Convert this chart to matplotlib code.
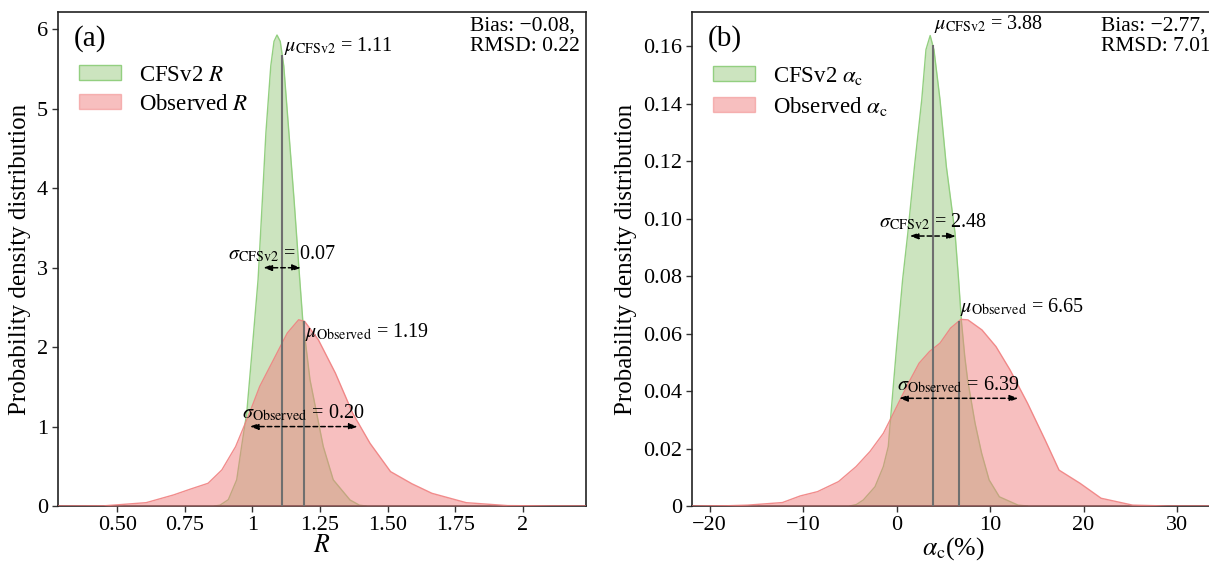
import numpy as np
import matplotlib
matplotlib.use('Agg')
import matplotlib.pyplot as plt
from matplotlib.patches import Patch

plt.rcParams['font.family'] = ['Liberation Serif', 'DejaVu Serif']
plt.rcParams['mathtext.fontset'] = 'stix'

# ---------------- data ----------------
# Panel (a): R
a_cfs_x = [0.86, 0.88, 0.911, 0.942, 0.960, 0.979, 1.000, 1.021, 1.037, 1.050, 1.068, 1.080,
           1.091, 1.103, 1.116, 1.135, 1.154, 1.173, 1.186, 1.213, 1.262, 1.299, 1.361, 1.396, 1.42]
a_cfs_y = [0, 0.01, 0.08, 0.33, 0.75, 1.17, 2.0, 2.85, 3.86, 4.70, 5.54, 5.85,
           5.93, 5.85, 5.54, 4.70, 3.86, 2.95, 2.35, 1.59, 0.75, 0.33, 0.076, 0.01, 0]
a_obs_x = [0.282, 0.45, 0.607, 0.708, 0.772, 0.836, 0.887, 0.938, 0.989, 1.027, 1.078, 1.129,
           1.171, 1.193, 1.244, 1.307, 1.371, 1.435, 1.511, 1.590, 1.664, 1.791, 1.944, 2.1, 2.234]
a_obs_y = [0, 0.002, 0.042, 0.139, 0.214, 0.286, 0.454, 0.748, 1.168, 1.505, 1.841, 2.177,
           2.345, 2.325, 2.093, 1.673, 1.168, 0.790, 0.433, 0.28, 0.160, 0.042, 0.005, 0.001, 0]
a_mean = [1.11, 1.19]
a_std = [0.07, 0.20]
a_bias, a_rmsd = -0.08, 0.22

# Panel (b): alpha_c (%)
b_cfs_x = [-5.0, -4.3, -3.55, -2.30, -1.41, -0.88, -0.62, 0.0, 0.65, 1.21, 1.92, 2.70, 3.15,
           3.6, 4.0, 4.65, 5.33, 6.26, 6.64, 6.95, 7.3, 7.6, 8.4, 9.1, 9.9, 11.0, 13.0, 14.0]
b_cfs_y = [0, 0.0005, 0.0021, 0.0067, 0.0137, 0.0207, 0.031, 0.055, 0.0787, 0.0950, 0.1182, 0.1415,
           0.1589, 0.1638, 0.1589, 0.1415, 0.1182, 0.0950, 0.0787, 0.064, 0.052, 0.044, 0.0288,
           0.0184, 0.0091, 0.0032, 0.0003, 0]
b_obs_x = [-21.84, -18.0, -15.94, -12.2, -10.3, -8.45, -6.2, -4.33, -2.83, -1.41, -0.51, 0.37,
           1.26, 2.41, 3.53, 4.65, 5.77, 6.89, 7.64, 9.14, 10.64, 12.14, 14.01, 15.89, 17.38,
           19.63, 21.88, 25.25, 29.0, 34.1]
b_obs_y = [0, 0.0001, 0.0003, 0.0012, 0.0035, 0.0050, 0.0085, 0.0137, 0.019, 0.0253, 0.0311, 0.0369,
           0.0427, 0.0497, 0.0538, 0.0567, 0.0619, 0.0650, 0.0648, 0.0613, 0.0555, 0.0474, 0.0358,
           0.0230, 0.0125, 0.0079, 0.0027, 0.0003, 0, 0]
b_mean = [3.88, 6.65]
b_std = [2.48, 6.39]
b_bias, b_rmsd = -2.77, 7.01

a_xticks = [0.5, 0.75, 1, 1.25, 1.5, 1.75, 2]
a_xticklabels = ['0.50', '0.75', '1', '1.25', '1.50', '1.75', '2']
a_yticks = [0, 1, 2, 3, 4, 5, 6]
a_yticklabels = ['0', '1', '2', '3', '4', '5', '6']
b_xticks = [-20, -10, 0, 10, 20, 30]
b_xticklabels = ['\u221220', '\u221210', '0', '10', '20', '30']
b_yticks = [0, 0.02, 0.04, 0.06, 0.08, 0.10, 0.12, 0.14, 0.16]
b_yticklabels = ['0', '0.02', '0.04', '0.06', '0.08', '0.10', '0.12', '0.14', '0.16']

# ---------------- styling ----------------
W, H = 1209, 564
fig = plt.figure(figsize=(W / 100, H / 100), dpi=100)
ax1 = fig.add_axes([58.3 / W, 58 / H, (586 - 58.3) / W, 494 / H])
ax2 = fig.add_axes([692.3 / W, 58 / H, (1215 - 692.3) / W, 494 / H])

G_FILL = '#cce4bf'
G_EDGE = '#93cf80'
R_BASE = '#f08080'
FS_ANN = 14.5
FS_TICK = 16
FS_LEG = 16.5
FS_LAB = 18


def fmt(v):
    return f'{v:.2f}'.replace('-', '\u2212')


def draw_panel(ax, cx, cy, ox, oy, means, stds, bias, rmsd, var_tex, letter,
               xlim, ylim, xticks, xtl, yticks, ytl, xlabel, arrow_y, mu_va, mu_dx, mu_dy):
    ax.fill_between(cx, 0, cy, color=G_FILL, lw=0, zorder=1)
    ax.plot(cx, cy, color=G_EDGE, lw=1.0, zorder=2)
    ax.fill_between(ox, 0, oy, color=R_BASE, alpha=0.5, lw=0, zorder=3)
    ax.plot(ox, oy, color=R_BASE, lw=1.0, alpha=0.9, zorder=4)

    names = ['CFSv2', 'Observed']
    curves = [(cx, cy), (ox, oy)]
    for k in range(2):
        m, s = means[k], stds[k]
        xs, ys = curves[k]
        top = np.interp(m, xs, ys)
        ax.vlines(m, 0, top, color='#6f6f6f', lw=1.5, zorder=5)
        ax.text(m + mu_dx, top + mu_dy[k], r'$\mu_{\rm %s}$ = %s' % (names[k], fmt(m)),
                ha='left', va=mu_va, fontsize=FS_ANN, zorder=6)
        ay = arrow_y[k]
        ax.annotate('', xy=(m + s, ay), xytext=(m - s, ay),
                    arrowprops=dict(arrowstyle='<|-|>,head_length=0.5,head_width=0.18',
                                    linestyle=(0, (3, 2)), color='k', lw=1.1,
                                    shrinkA=0, shrinkB=0), zorder=6)
        ax.annotate(r'$\sigma_{\rm %s}$ = %s' % (names[k], fmt(s)), xy=(m, ay),
                    xytext=(0, 2.5), textcoords='offset points',
                    ha='center', va='bottom', fontsize=FS_ANN, zorder=6)

    ax.text(0.029, 0.947, letter, transform=ax.transAxes, ha='left', va='center', fontsize=21)
    ax.text(0.781, 0.99, 'Bias: %s,\nRMSD: %s' % (fmt(bias), fmt(rmsd)), transform=ax.transAxes,
            ha='left', va='top', fontsize=15.5, linespacing=1.05)

    handles = [Patch(facecolor=G_FILL, edgecolor=G_EDGE, lw=1.0),
               Patch(facecolor=R_BASE, alpha=0.5, edgecolor=R_BASE, lw=1.0)]
    ax.legend(handles, ['CFSv2 ' + var_tex, 'Observed ' + var_tex], loc='upper left',
              bbox_to_anchor=(0.0, 0.935), frameon=False, fontsize=FS_LEG,
              handlelength=1.85, handleheight=0.65, handletextpad=0.75, labelspacing=0.35)

    ax.set_xlim(*xlim)
    ax.set_ylim(*ylim)
    ax.set_xticks(xticks)
    ax.set_xticklabels(xtl)
    ax.set_yticks(yticks)
    ax.set_yticklabels(ytl)
    ax.tick_params(direction='out', length=4.5, width=1.0, labelsize=FS_TICK, color='#333333',
                   pad=3)
    for sp in ax.spines.values():
        sp.set_linewidth(1.2)
        sp.set_color('#222222')
    ax.set_xlabel(xlabel, fontsize=FS_LAB + 0.5, labelpad=0)
    ax.set_ylabel('Probability density distribution', fontsize=FS_LAB, labelpad=4)


draw_panel(ax1, a_cfs_x, a_cfs_y, a_obs_x, a_obs_y, a_mean, a_std, a_bias, a_rmsd,
           r'$R$', '(a)', (0.282, 2.234), (0, 6.22), a_xticks, a_xticklabels,
           a_yticks, a_yticklabels, r'$R$', [3.0, 1.0], 'top', 0.006, [0.25, 0.0])
draw_panel(ax2, b_cfs_x, b_cfs_y, b_obs_x, b_obs_y, b_mean, b_std, b_bias, b_rmsd,
           r'$\alpha_{\rm c}$', '(b)', (-21.84, 34.06), (0, 0.172), b_xticks, b_xticklabels,
           b_yticks, b_yticklabels, r'$\alpha_{\rm c}$(%)', [0.094, 0.0375], 'bottom', 0.15,
           [0.0035, 0.001])

fig.savefig('out.png', dpi=100)
